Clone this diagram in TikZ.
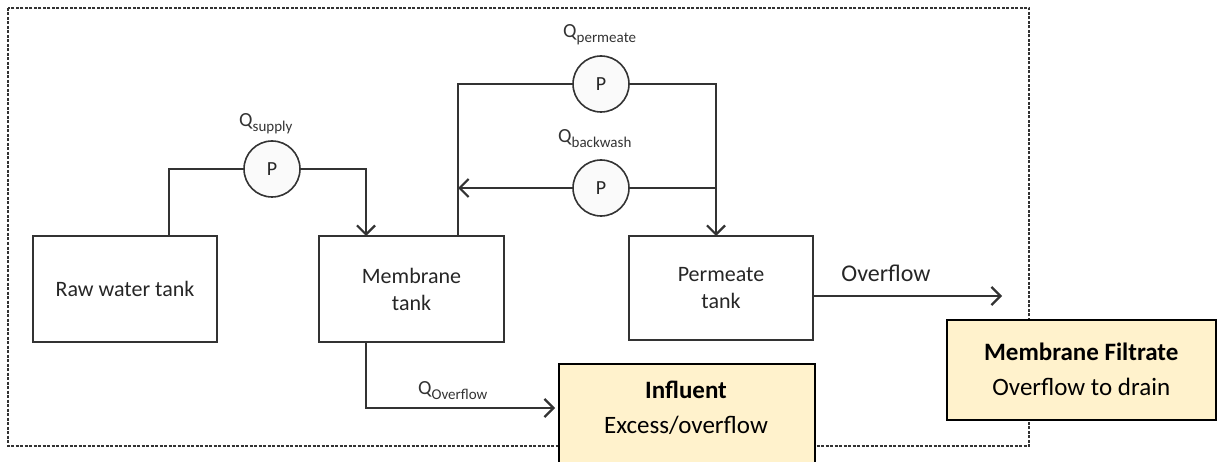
\documentclass[tikz,border=0pt]{standalone}
\usepackage{fontspec}
\setmainfont{Carlito}
\usepackage{tikz}
\usetikzlibrary{arrows.meta,positioning}
\definecolor{pipe}{HTML}{333333}
\definecolor{notefill}{HTML}{FFF2CC}
\tikzstyle{tank} = [rectangle, draw=pipe, line width=2.2pt, minimum width=184pt, minimum height=106pt, align=center, font=\fontsize{22}{27}\selectfont, text=black!85]
\tikzstyle{pump} = [circle, draw=pipe, line width=1.6pt, fill=black!2, minimum size=56pt, inner sep=0pt, font=\fontsize{20}{20}\selectfont, text=black!85]
\tikzstyle{note} = [rectangle, draw=black, line width=1.5pt, fill=notefill, align=center, font=\fontsize{25}{35}\selectfont]
\tikzstyle{pipeline} = [draw=pipe, line width=2.2pt]
\tikzstyle{arrow} = [pipeline, -{Straight Barb[length=9pt,width=18pt,line width=2.2pt]}]
\tikzstyle{qlabel} = [anchor=base west, inner sep=0pt, font=\fontsize{20}{20}\selectfont, text=black!80]
\newcommand{\flow}[1]{Q\raisebox{-5pt}{\fontsize{15}{15}\selectfont #1}}

\begin{document}
\begin{tikzpicture}[x=1pt, y=-1pt]
    \useasboundingbox (0,0) rectangle (1217,462);
    % system boundary
    \draw[black!80, line width=1.2pt, dash pattern=on 3pt off 1.5pt] (8,8) rectangle (1029,446);

    % tanks
    \node[tank] (raw) at (125,289) {Raw water tank};
    \node[tank, minimum width=185pt] (mem) at (411.5,289) {Membrane\\tank};
    \node[tank, minimum height=104pt] (perm) at (721,288) {Permeate\\tank};

    % pumps
    \node[pump] (psupply) at (272,169) {P};
    \node[pump] (ppermeate) at (601,84) {P};
    \node[pump] (pbackwash) at (601,188) {P};
    \node[qlabel] (qsupply) at (239,127) {\flow{supply}};
    \node[qlabel] (qpermeate) at (563,38) {\flow{permeate}};
    \node[qlabel] (qbackwash) at (558,143) {\flow{backwash}};
    \node[qlabel] (qoverflow) at (418,394) {\flow{Overflow}};

    % pipe ends
    \coordinate (rawout) at (169,236);
    \coordinate (memin) at (366,236);
    \coordinate (memout) at (458,236);
    \coordinate (permin) at (716,236);
    \coordinate (spill) at (366,342);
    \coordinate (spillend) at (555,408);
    \coordinate (drain) at (1002,296);

    % outlets
    \node[note, minimum width=256pt, minimum height=108pt, anchor=north west] (influent) at (558,363) {};
    \node[font=\fontsize{25}{25}\selectfont\bfseries] (influenttitle) at (686,390) {Influent};
    \node[font=\fontsize{25}{25}\selectfont] (influenttext) at (686,425) {Excess/overflow};
    \node[note, minimum width=269pt, minimum height=100pt, anchor=north west] (filtrate) at (946,319) {\textbf{Membrane Filtrate}\\Overflow to drain};

    % piping
    \draw[pipeline] (rawout) |- (psupply.west);
    \draw[arrow] (psupply.east) -| (memin);
    \draw[pipeline] (memout) |- (ppermeate.west);
    \draw[arrow] (ppermeate.east) -| (permin);
    \draw[arrow] (pbackwash.west) -- (pbackwash.west -| memout);
    \draw[pipeline] (pbackwash.east) -- (pbackwash.east -| permin);
    \draw[arrow] (spill) |- (spillend);
    \draw[arrow] (perm.east |- drain) -- (drain);
    \node[font=\fontsize{24}{24}\selectfont, text=black!85] (overflow) at (886,273) {Overflow};
\end{tikzpicture}
\end{document}
